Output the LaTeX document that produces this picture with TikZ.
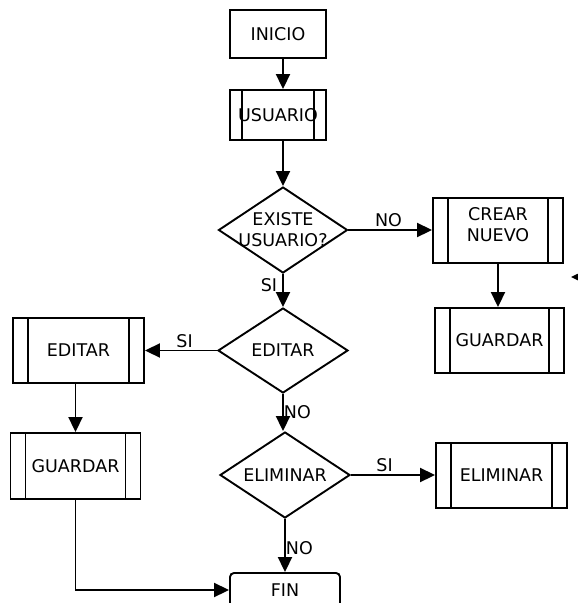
\documentclass[tikz,border=0pt]{standalone}
\usepackage{fontspec}
\setmainfont{DejaVu Sans}
\usetikzlibrary{shapes.geometric,arrows.meta}
\newcommand{\lbl}{\fontsize{17.5}{21}\selectfont}
\tikzset{
  box/.style={draw, line width=1.9pt, rectangle, inner sep=0pt, font=\lbl, align=center},
  proc/.style={box, path picture={
      \draw[line width=1.9pt] ([xshift=#1]path picture bounding box.north west) -- ([xshift=#1]path picture bounding box.south west);
      \draw[line width=1.9pt] ([xshift=-#1]path picture bounding box.north east) -- ([xshift=-#1]path picture bounding box.south east);}},
  proc/.default=15pt,
  dec/.style={draw, line width=1.9pt, diamond, inner sep=0pt},
  txt/.style={font=\lbl, align=center, inner sep=0pt},
  arr/.style={line width=1.9pt, -{Triangle[length=15pt,width=14pt]}},
  ln/.style={line width=1.9pt}
}
\begin{document}
\begin{tikzpicture}[x=1pt,y=-1pt]
\useasboundingbox (0,0) rectangle (578,603);
% nodes
\node[box, minimum width=96pt, minimum height=48pt] (inicio) at (278,34) {INICIO};
\node[proc=12pt, minimum width=96pt, minimum height=50pt] (usuario) at (278,115) {USUARIO};
\node[dec, minimum width=129pt, minimum height=86pt] (d1) at (283,230) {};
\node[txt] (d1t) at (d1) {EXISTE\\USUARIO?};
\node[proc, minimum width=130pt, minimum height=65pt,
  label={[txt,yshift=6pt]center:CREAR\\NUEVO}] (crear) at (498,230.5) {};
\node[proc, minimum width=129pt, minimum height=65pt] (guardar2) at (499.5,340.5) {GUARDAR};
\node[dec, minimum width=130pt, minimum height=85pt] (d2) at (283,350.5) {};
\node[txt] (d2t) at (d2) {EDITAR};
\node[proc, minimum width=131pt, minimum height=65pt] (editar) at (78.5,350.5) {EDITAR};
\node[proc, minimum width=130pt, minimum height=66pt] (guardar1) at (75.5,466) {GUARDAR};
\node[dec, minimum width=130pt, minimum height=86pt] (d3) at (285,475) {};
\node[txt] (d3t) at (d3) {ELIMINAR};
\node[proc, minimum width=131pt, minimum height=65pt] (elim) at (501.5,475.5) {ELIMINAR};
\node[box, rounded corners=4pt, minimum width=110pt, minimum height=34pt] (fin) at (285,590) {FIN};
\coordinate (off) at (600,277);
\coordinate (offtip) at (571,277);
% connectors
\draw[arr] (inicio.south -| d1.north) -- (usuario.north -| d1.north);
\draw[arr] (usuario.south -| d1.north) -- (d1.north);
\draw[arr] (d1.east) -- node[txt, above=2pt, pos=0.48] (no1) {NO} (d1.east -| crear.west);
\draw[arr] (d1.south) -- node[txt, left=5pt, pos=0.35] (si1) {SI} (d2.north);
\draw[arr] (crear.south) -- (crear.south |- guardar2.north);
\draw[arr] (d2.west) -- node[txt, above=2pt, pos=0.45] (si2) {SI} (d2.west -| editar.east);
\draw[arr] (editar.south -| guardar1.north) -- (guardar1.north);
\draw[arr] (d2.south) -- node[txt, right=0pt, pos=0.5] (no2) {NO} (d3.north -| d2.south);
\draw[arr] (d3.east) -- node[txt, above=2pt, pos=0.4] (si3) {SI} (d3.east -| elim.west);
\draw[arr] (d3.south) -- node[txt, right=0pt, pos=0.55] (no3) {NO} (fin.north -| d3.south);
\draw[arr] (guardar1.south) |- (fin.west);
\draw[arr] (off) -- (offtip);
\end{tikzpicture}
\end{document}
